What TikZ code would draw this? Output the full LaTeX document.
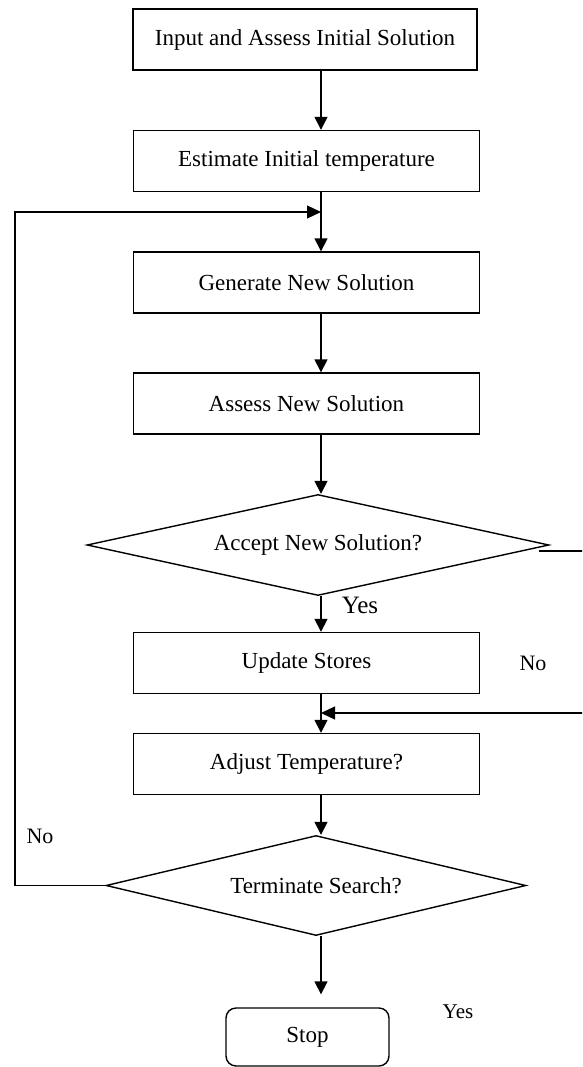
\documentclass[tikz,border=0pt]{standalone}
\usepackage{fontspec}
\setmainfont{Liberation Serif}
\usetikzlibrary{shapes.geometric,arrows.meta}
\begin{document}
\begin{tikzpicture}[x=1pt,y=-1pt,
  txt/.style={font=\fontsize{23}{27}\selectfont},
  box/.style={draw,line width=1.4pt,minimum width=346pt,minimum height=61pt,inner sep=0pt,txt},
  dia/.style={draw,diamond,line width=1.4pt,inner sep=0pt,aspect=4.5,txt},
  conn/.style={line width=1.6pt,-{Triangle[length=13pt,width=13pt]}},
  loopl/.style={line width=1.2pt,-{Triangle[length=14pt,width=13pt]}},
  lbl/.style={inner sep=0pt}]
\path[use as bounding box] (0,0) rectangle (582,1067);
\clip (0,0) rectangle (582,1067);
\node[box,minimum width=344pt] (b1) at (305,39.5) {Input and Assess Initial Solution};
\node[box] (b2) at (306.5,161) {Estimate Initial temperature};
\node[box] (b3) at (306.5,282.5) {Generate New Solution};
\node[box] (b4) at (306.5,403.5) {Assess New Solution};
\node[dia,minimum width=462pt,minimum height=101pt] (d1) at (318,545) {Accept New Solution?};
\node[box] (b5) at (306.5,663) {Update Stores};
\node[box] (b6) at (306.5,764) {Adjust Temperature?};
\node[dia,minimum width=420pt,minimum height=100pt] (d2) at (316,885.5) {Terminate Search?};
\node[draw,rounded corners=10pt,line width=1.4pt,minimum width=163pt,minimum height=58pt,inner sep=0pt,txt] (stop) at (307.5,1037) {Stop};
\coordinate (col) at (321,0);
\coordinate (lj) at (321,212);
\coordinate (rj) at (321,713);
\coordinate (ll) at (15,0);
\draw[conn] (b1.south -| col) -- (b2.north -| col);
\draw[conn] (b2.south -| col) -- (b3.north -| col);
\draw[conn] (b3.south -| col) -- (b4.north -| col);
\draw[conn] (b4.south -| col) -- (d1.north -| col);
\draw[conn] (d1.south -| col) -- (b5.north -| col);
\draw[conn] (b5.south -| col) -- (b6.north -| col);
\draw[conn] (b6.south -| col) -- (d2.north -| col);
\draw[conn,shorten >=13pt] (d2.south -| col) -- (stop.north -| col);
\draw[loopl] (d2.west) -- (d2.west -| ll) |- (lj);
\draw[loopl] (d1.east) ++(-11,6) -- ++(60,0) |- (rj);
\node[lbl,font=\fontsize{25}{30}\selectfont] (yes1) at (360,605) {Yes};
\node[lbl,font=\fontsize{22}{26}\selectfont] (no1) at (533,663) {No};
\node[lbl,font=\fontsize{22}{26}\selectfont] (no2) at (40,836) {No};
\node[lbl,font=\fontsize{21}{25}\selectfont] (yes2) at (458,1012) {Yes};
\end{tikzpicture}
\end{document}
